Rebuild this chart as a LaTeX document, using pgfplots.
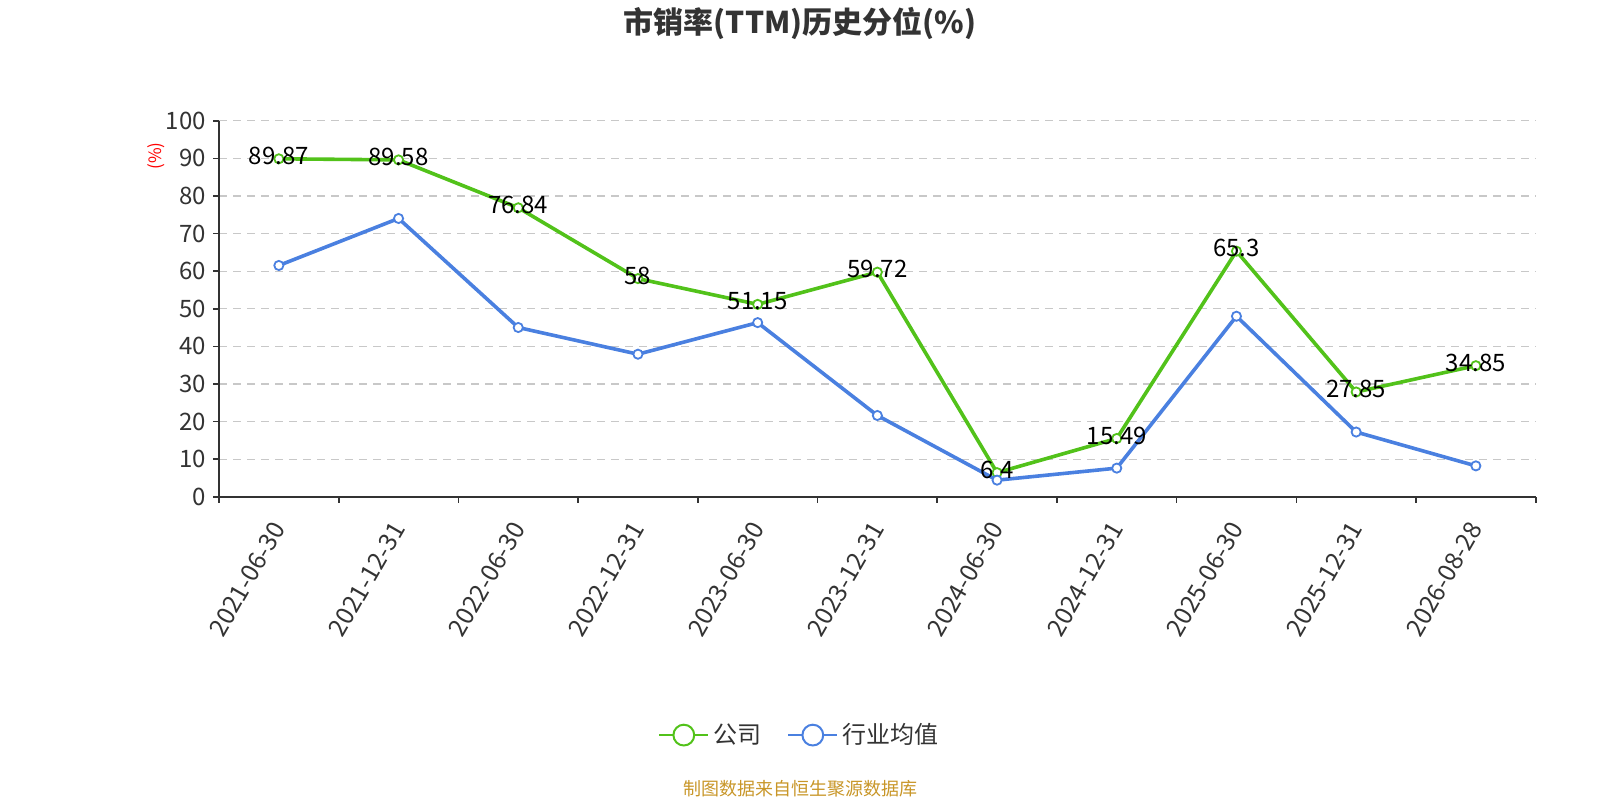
\documentclass[border=0pt]{standalone}
\usepackage{pgfplots}
\pgfplotsset{compat=1.18}
\usepackage{fontspec}
\setmainfont{Noto Sans CJK SC}
\definecolor{cgreen}{RGB}{82,194,26}
\definecolor{cblue}{RGB}{74,128,224}
\definecolor{ctext}{RGB}{51,51,51}
\definecolor{cgold}{RGB}{200,150,40}
\definecolor{cgrid}{RGB}{200,200,200}
\begin{document}
\begin{tikzpicture}
\path[use as bounding box] (0,0) rectangle (800pt,400pt);
\node[font=\bfseries\fontsize{15}{17}\selectfont, text=ctext] at (400pt,388.5pt) {市销率(TTM)历史分位(\%)};
\node[font=\fontsize{9}{11}\selectfont, text=cgold] at (400pt,5.5pt) {制图数据来自恒生聚源数据库};
\node[font=\fontsize{8.5}{10}\selectfont, text=red, rotate=90] at (78.3pt,322pt) {(\%)};
\begin{axis}[
  at={(109.5pt,151.65pt)}, anchor=south west,
  scale only axis, width=658.35pt, height=188pt,
  xmin=-0.5, xmax=10.5, ymin=0, ymax=100,
  xtick={0,...,10},
  xticklabels={2021-06-30,2021-12-31,2022-06-30,2022-12-31,2023-06-30,2023-12-31,2024-06-30,2024-12-31,2025-06-30,2025-12-31,2026-08-28},
  major x tick style={draw=none},
  minor xtick={-0.5,0.5,...,10.5},
  minor x tick style={ctext, line width=0.8pt},
  ytick={0,10,...,100},
  tick align=outside,
  major tick length=3pt, minor tick length=3pt,
  ytick style={ctext, line width=0.8pt},
  axis x line*=bottom, axis y line*=left,
  axis line style={ctext, line width=0.8pt, -},
  ymajorgrids, grid style={cgrid, dashed, line width=0.6pt, dash pattern=on 4pt off 3pt},
  xticklabel style={rotate=60, anchor=east, font=\fontsize{12.3}{14}\selectfont, text=ctext, xshift=-6pt, yshift=-5.5pt},
  yticklabel style={font=\fontsize{12}{14}\selectfont, text=ctext},
  /pgf/number format/assume math mode=true,
  clip=false,
  legend style={at={(0.4415,-0.634)}, anchor=center, draw=none, fill=none, font=\fontsize{12}{14}\selectfont, text=ctext, legend columns=2,
    /tikz/every even column/.append style={column sep=11pt},
    /tikz/every odd column/.append style={column sep=0pt}},
  legend image code/.code={
    \draw[#1, mark=none, line width=1pt] (0pt,0pt) -- (24.5pt,0pt);
    \draw[#1, mark=none, fill=white, line width=1pt] (12.25pt,0pt) circle (5.2pt);
  },
  legend cell align=left,
  nodes near coords style={font=\fontsize{12}{14}\selectfont, text=black, anchor=center, yshift=1.5pt},
]
\addplot[cgreen, line width=1.8pt, mark=*, mark size=2.3pt, mark options={fill=white, line width=0.9pt},
  nodes near coords, point meta=explicit symbolic]
  coordinates {(0,89.87)[89.87] (1,89.58)[89.58] (2,76.84)[76.84] (3,58)[58] (4,51.15)[51.15] (5,59.72)[59.72] (6,6.4)[6.4] (7,15.49)[15.49] (8,65.3)[65.3] (9,27.85)[27.85] (10,34.85)[34.85]};
\addlegendentry{公司}
\addplot[cblue, line width=1.8pt, mark=*, mark size=2.3pt, mark options={fill=white, line width=0.9pt}]
  coordinates {(0,61.5) (1,74.0) (2,45.0) (3,37.9) (4,46.3) (5,21.6) (6,4.4) (7,7.6) (8,48.0) (9,17.2) (10,8.2)};
\addlegendentry{行业均值}
\end{axis}
\end{tikzpicture}
\end{document}
